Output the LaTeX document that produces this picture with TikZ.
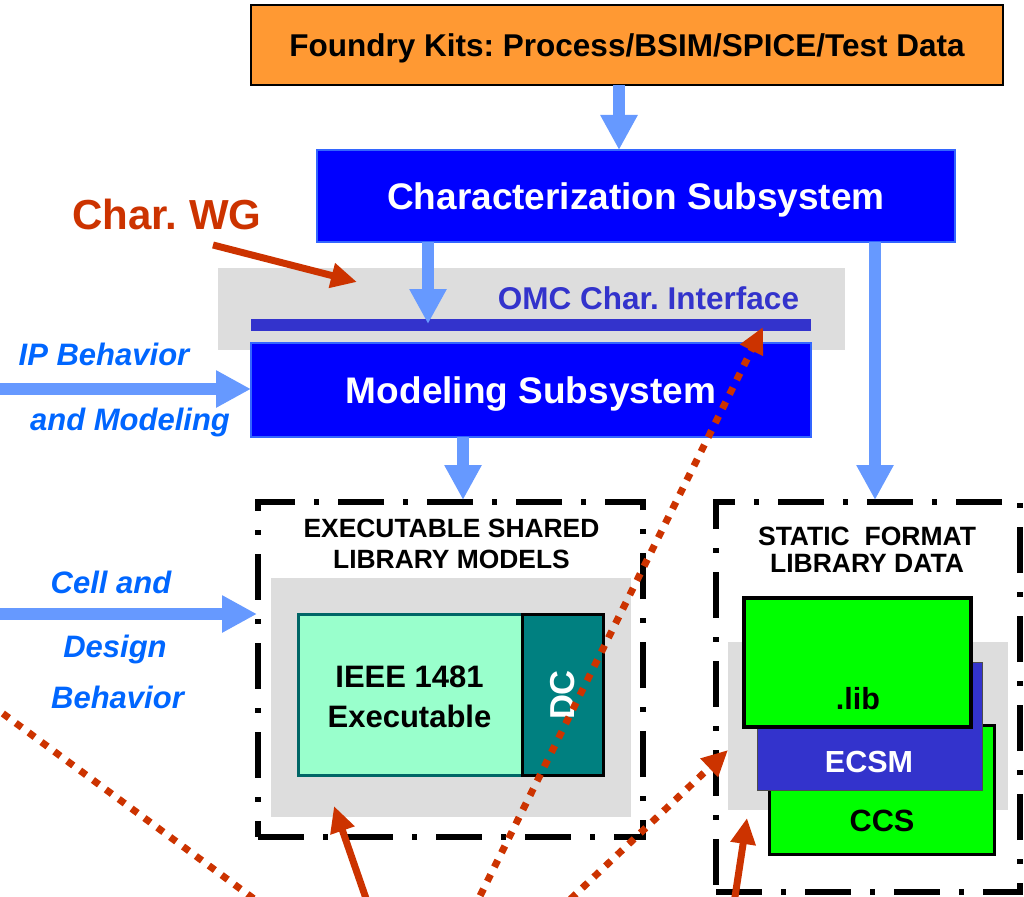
\documentclass[tikz,border=0pt]{standalone}
\usepackage{fontspec}
\setmainfont{Liberation Sans}
\usetikzlibrary{arrows.meta,calc}
\frenchspacing
\definecolor{orangefill}{HTML}{FF9933}
\definecolor{subblue}{HTML}{0000FF}
\definecolor{subedge}{HTML}{3366FF}
\definecolor{lightblue}{HTML}{6699FF}
\definecolor{bggray}{HTML}{DDDDDD}
\definecolor{ifblue}{HTML}{3333CC}
\definecolor{wgred}{HTML}{CC3300}
\definecolor{itblue}{HTML}{0066FF}
\definecolor{mint}{HTML}{99FFCC}
\definecolor{tealfill}{HTML}{008080}
\definecolor{tealedge}{HTML}{006666}
\definecolor{libgreen}{HTML}{00FF00}
\begin{document}
\begin{tikzpicture}[x=1pt,y=-1pt,
  boxnode/.style={inner sep=0pt,outer sep=0pt,anchor=center},
  bluearrow/.style={lightblue,line width=12pt,-{Triangle[width=35pt,length=35pt]}},
  redarrow/.style={wgred,line width=7pt,-{Triangle[width=24pt,length=26pt]}},
  reddots/.style={wgred,line width=7pt,dash pattern=on 7.5pt off 8.5pt},
  framebox/.style={boxnode,draw=black,line width=5.5pt,dash pattern=on 46pt off 19pt on 5pt off 19pt},
  itlabel/.style={anchor=base,text=itblue,font=\fontsize{31}{36}\selectfont\bfseries\itshape},
  titlelabel/.style={anchor=base,align=center,text=black}
]
\useasboundingbox (0,0) rectangle (1024,896);
\clip (0,0) rectangle (1024,896);

% ---- top boxes ----
\node[boxnode,draw=black,line width=1.5pt,fill=orangefill,minimum width=752pt,minimum height=80pt,
  text height=22.5pt,text depth=0pt,font=\fontsize{31.5}{36}\selectfont\bfseries] (foundry) at (627,45)
  {Foundry Kits: Process/BSIM/SPICE/Test Data};
\node[boxnode,draw=subedge,line width=2pt,fill=subblue,minimum width=638pt,minimum height=92pt,
  text height=26.5pt,text depth=0pt,text=white,font=\fontsize{37}{42}\selectfont\bfseries] (char) at (636,196)
  {Characterization Subsystem};

% ---- interface ----
\node[boxnode,fill=bggray,minimum width=627pt,minimum height=82pt] (omcbg) at (531.5,309) {};
\node[anchor=base,text=ifblue,font=\fontsize{31.5}{36}\selectfont\bfseries] (omclabel) at (648.5,309.3) {OMC Char. Interface};
\node[boxnode,fill=ifblue,minimum width=560pt,minimum height=12pt] (ibar) at (531,325) {};
\node[boxnode,draw=subedge,line width=2pt,fill=subblue,minimum width=560pt,minimum height=94pt,
  text height=26.5pt,text depth=0pt,text=white,font=\fontsize{37}{42}\selectfont\bfseries] (model) at (531,390)
  {Modeling Subsystem};

% ---- Char. WG ----
\node[anchor=base,text=wgred,font=\fontsize{42}{48}\selectfont\bfseries] (wg) at (167,229) {Char. WG};

% ---- left labels ----
\node[itlabel] (ipl1) at (104,365.1) {IP Behavior};
\node[itlabel] (ipl2) at (130,430.1) {and Modeling};
\node[itlabel] (cl1) at (111,593.1) {Cell and};
\node[itlabel] (cl2) at (115,657.1) {Design};
\node[itlabel] (cl3) at (117.5,708.1) {Behavior};

% ---- executable shared library models ----
\node[framebox,minimum width=385pt,minimum height=335pt] (execframe) at (450.5,669.5) {};
\node[titlelabel,font=\fontsize{26.4}{31.5}\selectfont\bfseries] (exectitle) at (451.5,568.5) {EXECUTABLE SHARED\\LIBRARY MODELS};
\node[boxnode,fill=bggray,minimum width=360pt,minimum height=239pt] (execgray) at (451,697.5) {};
\node[boxnode,draw=tealedge,line width=3pt,fill=mint,minimum width=224pt,minimum height=161pt] (ieee) at (410,694.5) {};
\node[titlelabel,font=\fontsize{31}{40}\selectfont\bfseries] (ieeetxt) at (409.5,727) {IEEE 1481\\Executable};
\node[boxnode,draw=black,line width=3pt,fill=tealfill,minimum width=81pt,minimum height=161pt] (dc) at (562.5,694.5) {};
\node[rotate=90,inner sep=0pt,text=white,text height=24.8pt,text depth=0pt,font=\fontsize{34.6}{40}\selectfont\bfseries] (dctxt) at (562,695) {DC};

% ---- static format library data ----
\node[framebox,minimum width=304pt,minimum height=390pt] (staticframe) at (868,697) {};
\node[titlelabel,font=\fontsize{26.5}{26.5}\selectfont\bfseries] (stattitle) at (867,572) {STATIC\ \ FORMAT\\LIBRARY DATA};
\node[boxnode,fill=bggray,minimum width=280pt,minimum height=168pt] (statgray) at (868,726) {};
\node[boxnode,draw=black,line width=3pt,fill=libgreen,minimum width=225pt,minimum height=129pt] (ccs) at (881.5,789.5) {};
\node[boxnode,draw=black!70,line width=1pt,fill=ifblue,minimum width=225pt,minimum height=128pt] (ecsm) at (869.5,726) {};
\node[boxnode,draw=black,line width=4pt,fill=libgreen,minimum width=227pt,minimum height=129pt] (lib) at (857.5,662.5) {};
\node[anchor=base,font=\fontsize{30.5}{36}\selectfont\bfseries] (libtxt) at (858,709) {.lib};
\node[anchor=base,text=white,font=\fontsize{30.5}{36}\selectfont\bfseries] (ecsmtxt) at (869,772.4) {ECSM};
\node[anchor=base,font=\fontsize{30.7}{36}\selectfont\bfseries] (ccstxt) at (882,831) {CCS};

% ---- blue connectors ----
\coordinate (xa) at (619,0);
\coordinate (xb) at (428,0);
\coordinate (xc) at (875,0);
\coordinate (xd) at (463,0);
\coordinate (ipstart) at (-5,389);
\coordinate (cellstart) at (-5,614);
\draw[bluearrow] (xa |- foundry.south) -- (xa |- char.north);
\draw[bluearrow] (xb |- char.south) -- ($(xb |- ibar.center)+(0,-1)$);
\draw[bluearrow] (xc |- char.south) -- ($(xc |- staticframe.north)+(0,-2)$);
\draw[bluearrow] (xd |- model.south) -- ($(xd |- execframe.north)+(0,-2)$);
\draw[bluearrow] (ipstart) -- (ipstart -| model.west);
\draw[bluearrow] (cellstart) -- ($(cellstart -| execframe.west)+(-1,0)$);

% ---- red connectors ----
\coordinate (wgtail) at (213,245);
\coordinate (wgtip) at (357,282);
\draw[redarrow] (wgtail) -- (wgtip);

\coordinate (s1a) at (370,910);
\coordinate (s1b) at (334,806);
\draw[redarrow] (s1a) -- (s1b);
\coordinate (s2a) at (733,910);
\coordinate (s2b) at (747,818);
\draw[redarrow] (s2a) -- (s2b);

\coordinate (dla) at (-10,704);
\coordinate (dlb) at (269,910);
\draw[reddots] (dla) -- (dlb);
\coordinate (dma) at (473,910);
\coordinate (dmb) at (763,327);
\draw[reddots,-{Triangle[width=24pt,length=26pt]}] (dma) -- (dmb);
\coordinate (dta) at (559,910);
\coordinate (dtb) at (728,750);
\draw[reddots,-{Triangle[width=24pt,length=26pt]}] (dta) -- (dtb);
\end{tikzpicture}
\end{document}
